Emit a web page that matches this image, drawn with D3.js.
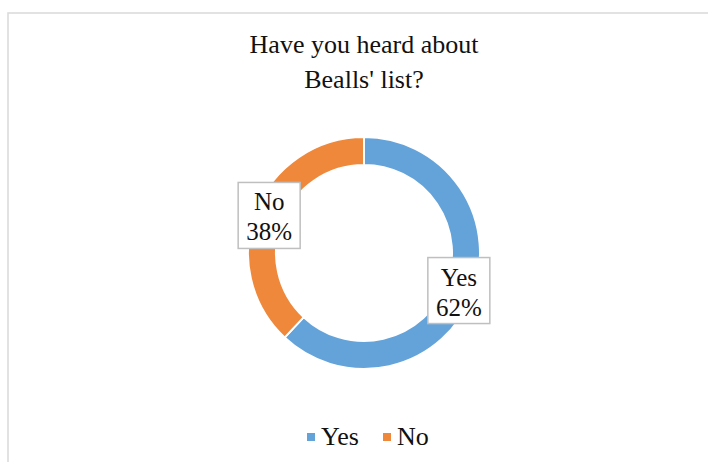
<!DOCTYPE html>
<html>
<head>
<meta charset="utf-8">
<script src="https://cdn.jsdelivr.net/npm/d3@7"></script>
<style>
  html, body { margin: 0; padding: 0; background: #fff; }
  svg { display: block; font-family: "Liberation Serif", "Times New Roman", serif; }
</style>
</head>
<body>
<svg id="chart" width="708" height="462"></svg>
<script>
const titleLines = ["Have you heard about", "Bealls' list?"];
const categories = ["Yes", "No"];
const values = [62, 38];
const colors = ["#64A3DA", "#EF883A"];

const svg = d3.select("#chart");
const W = 708, H = 462;

// chart border
svg.append("rect")
  .attr("x", 8).attr("y", 13)
  .attr("width", W + 10).attr("height", H + 10)
  .attr("fill", "#fff").attr("stroke", "#D9D9D9").attr("stroke-width", 1.5);

// title
const title = svg.append("text")
  .attr("text-anchor", "middle")
  .attr("font-size", 26)
  .attr("fill", "#111");
titleLines.forEach((t, i) => {
  title.append("tspan").attr("x", 364).attr("y", 53 + i * 35).text(t);
});

const cx = 364, cy = 253, rOuter = 116, rInner = 88;
const data = categories.map((c, i) => ({ cat: c, value: values[i], color: colors[i] }));

const pie = d3.pie().value(d => d.value).sort(null).startAngle(0).endAngle(2 * Math.PI);
const arc = d3.arc().innerRadius(rInner).outerRadius(rOuter);
const arcs = pie(data);

const g = svg.append("g").attr("transform", `translate(${cx},${cy})`);
g.selectAll("path.slice")
  .data(arcs)
  .join("path")
  .attr("class", "slice")
  .attr("d", arc)
  .attr("fill", d => d.data.color)
  .attr("stroke", "#fff")
  .attr("stroke-width", 2);

// data labels
const total = d3.sum(values);
arcs.forEach(a => {
  const [lx, ly] = arc.centroid(a);
  const lg = g.append("g").attr("transform", `translate(${lx},${ly})`);
  const box = lg.append("rect").attr("fill", "#fff").attr("stroke", "#BFBFBF").attr("stroke-width", 1.5);
  const t = lg.append("text").attr("text-anchor", "middle").attr("font-size", 25).attr("fill", "#111");
  t.append("tspan").attr("x", 0).attr("y", -5).text(a.data.cat);
  t.append("tspan").attr("x", 0).attr("y", 25).text(Math.round(a.data.value / total * 100) + "%");
  const w = 62, h = 66;
  box.attr("x", -w / 2).attr("y", -h / 2).attr("width", w).attr("height", h);
});

// legend
const legend = svg.append("g");
const legendItems = [{ x: 307 }, { x: 383 }];
data.forEach((d, i) => {
  const lx = legendItems[i].x;
  legend.append("rect").attr("x", lx).attr("y", 433).attr("width", 8).attr("height", 8).attr("fill", d.color);
  legend.append("text").attr("x", lx + 14).attr("y", 445).attr("font-size", 26).attr("fill", "#111").text(d.cat);
});
</script>
</body>
</html>
